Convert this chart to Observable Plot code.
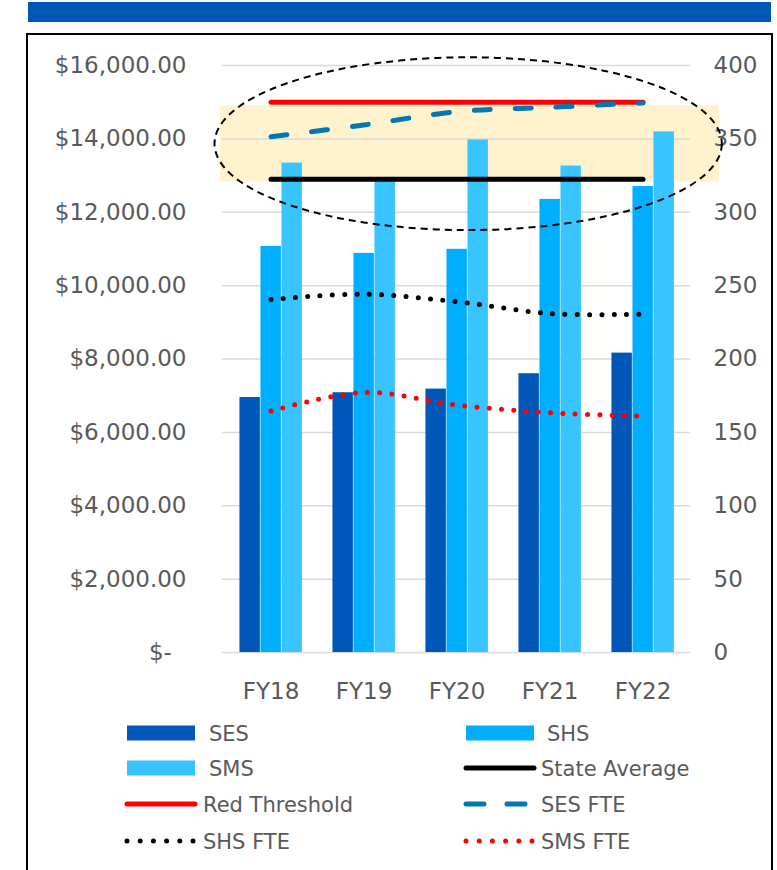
<!DOCTYPE html>
<html><head><meta charset="utf-8">
<script src="https://cdn.jsdelivr.net/npm/d3@7"></script>
<script src="https://cdn.jsdelivr.net/npm/@observablehq/plot@0.6"></script>
<style>
body{margin:0;background:#fff;font-family:"DejaVu Sans",sans-serif;}
#page{position:relative;width:777px;height:870px;overflow:hidden;background:#fff;}
#topbar{position:absolute;left:28px;top:2px;width:743px;height:20px;background:#0057B8;}
#box{position:absolute;left:26px;top:33px;width:743px;height:900px;border:2px solid #000;}
#chart{position:absolute;left:28px;top:35px;}
#legend{position:absolute;left:0;top:710px;}
</style></head><body>
<div id="page"><div id="topbar"></div><div id="box"></div><div id="chart"></div><div id="legend"></div></div>
<script>
// ---- data ----
const years = ["FY18", "FY19", "FY20", "FY21", "FY22"];
const ses = [6950, 7080, 7180, 7600, 8160];
const shs = [11070, 10880, 10990, 12350, 12700];
const sms = [13340, 12860, 13970, 13260, 14190];
const stateAverage = [12900, 12900, 12900, 12900, 12900];
const redThreshold = [15000, 15000, 15000, 15000, 15000];
const sesFte = [351.5, 359.5, 368.5, 371.5, 374.5];
const shsFte = [240.5, 244.2, 239, 231, 230.5];
const smsFte = [164.5, 177.2, 168.6, 163.4, 161.1];
const leftTicks = [0, 2000, 4000, 6000, 8000, 10000, 12000, 14000, 16000];
const rightTicks = [0, 50, 100, 150, 200, 250, 300, 350, 400];
const highlightBand = [{y1: 12820, y2: 14900}];
// ellipse annotation: center year + offset (in bands), vertical extent in $
const ellipseNote = {year: "FY20", xOffsetBands: 0.13, rxBands: 2.71, yTop: 16210, yBottom: 11500};

const ratio = 16000 / 400; // right axis (FTE) to left axis ($)

const rows = years.map((y, i) => ({
  year: y, ses: ses[i], shs: shs[i], sms: sms[i],
  stateAverage: stateAverage[i], redThreshold: redThreshold[i],
  sesFte: sesFte[i] * ratio, shsFte: shsFte[i] * ratio, smsFte: smsFte[i] * ratio
}));

const colors = {ses: "#0057B8", shs: "#00AEFF", sms: "#38C4FF", sesFte: "#0078B4"};

const W = 743, H = 680, ml = 194, mr = 81, mt = 30, mb = 63;
const bw = (W - ml - mr) / years.length;
const groupOff = 0.165 * bw, barW = 0.2245 * bw;
function bars(key, color, k) {
  return Plot.barY(rows, {
    x: "year", y: key, fill: color,
    insetLeft: groupOff + k * barW,
    insetRight: bw - groupOff - (k + 1) * barW
  });
}
const moneyFmt = d => d === 0 ? "$-\u00a0\u00a0" : "$" + d3.format(",.2f")(d);

const chart = Plot.plot({
  width: W, height: H,
  marginLeft: ml, marginRight: mr, marginTop: mt, marginBottom: mb,
  style: {fontFamily: "'DejaVu Sans', sans-serif", fontSize: "23px", color: "#595959", background: "transparent"},
  x: {type: "band", domain: years, padding: 0},
  y: {domain: [0, 16000]},
  marks: [
    Plot.rectY(highlightBand, {y1: "y1", y2: "y2", fill: "#FFF2CC", insetLeft: -2, insetRight: -29}),
    Plot.ruleY(leftTicks, {stroke: "#D9D9D9", strokeWidth: 1.5}),
    bars("ses", colors.ses, 0),
    bars("shs", colors.shs, 1),
    bars("sms", colors.sms, 2),
    Plot.axisY(leftTicks, {anchor: "left", tickSize: 0, tickPadding: 36, tickFormat: moneyFmt, label: null}),
    Plot.axisY(rightTicks.map(v => v * ratio), {anchor: "right", tickSize: 0, tickPadding: 23, tickFormat: d => String(d / ratio), label: null}),
    Plot.axisX({tickSize: 0, tickPadding: 30, label: null}),
    Plot.lineY(rows, {x: "year", y: "stateAverage", stroke: "#000", strokeWidth: 5, strokeLinecap: "round"}),
    Plot.lineY(rows, {x: "year", y: "redThreshold", stroke: "#FF0000", strokeWidth: 5, strokeLinecap: "round"}),
    Plot.lineY(rows, {x: "year", y: "sesFte", stroke: colors.sesFte, strokeWidth: 5, strokeLinecap: "round", strokeDasharray: "16,25", curve: "catmull-rom"}),
    Plot.lineY(rows, {x: "year", y: "shsFte", stroke: "#000", strokeWidth: 5, strokeLinecap: "round", strokeDasharray: "0,12.3", curve: "catmull-rom"}),
    Plot.lineY(rows, {x: "year", y: "smsFte", stroke: "#FF0000", strokeWidth: 5, strokeLinecap: "round", strokeDasharray: "0,12.3", curve: "catmull-rom"})
  ]
});
document.getElementById("chart").appendChild(chart);

// ellipse annotation using the plot's own scales
(function () {
  const xs = chart.scale("x"), ys = chart.scale("y");
  const xb = d3.scaleBand().domain(xs.domain).range(xs.range)
    .paddingInner(xs.paddingInner || 0).paddingOuter(xs.paddingOuter || 0).align(xs.align ?? 0.5);
  const yl = d3.scaleLinear().domain(ys.domain).range(ys.range);
  const band = xb.bandwidth();
  const cx = xb(ellipseNote.year) + band / 2 + ellipseNote.xOffsetBands * band;
  const yT = yl(ellipseNote.yTop), yB = yl(ellipseNote.yBottom);
  d3.select(chart).append("ellipse")
    .attr("cx", cx).attr("cy", (yT + yB) / 2)
    .attr("rx", ellipseNote.rxBands * band).attr("ry", Math.abs(yB - yT) / 2)
    .attr("fill", "none").attr("stroke", "#000").attr("stroke-width", 2)
    .attr("stroke-dasharray", "7,5");
})();

// ---- legend ----
const legendItems = [
  {label: "SES", type: "rect", color: colors.ses, sx: 127, sw: 68, tx: 209, row: 0},
  {label: "SHS", type: "rect", color: colors.shs, sx: 466, sw: 68, tx: 547, row: 0},
  {label: "SMS", type: "rect", color: colors.sms, sx: 127, sw: 68, tx: 209, row: 1},
  {label: "State Average", type: "line", color: "#000", sx: 466, sw: 68, tx: 541, row: 1},
  {label: "Red Threshold", type: "line", color: "#FF0000", sx: 127, sw: 68, tx: 203, row: 2},
  {label: "SES FTE", type: "dash", color: colors.sesFte, sx: 466, sw: 62, tx: 541, row: 2},
  {label: "SHS FTE", type: "dot", color: "#000", sx: 127, sw: 66, tx: 203, row: 3},
  {label: "SMS FTE", type: "dot", color: "#FF0000", sx: 466, sw: 66, tx: 541, row: 3}
];
const rowY = [23, 58, 94, 131];
const lg = d3.select("#legend").append("svg").attr("width", 777).attr("height", 160)
  .style("font-family", "'DejaVu Sans', sans-serif").style("font-size", "21px");
for (const it of legendItems) {
  const y = rowY[it.row];
  if (it.type === "rect") {
    lg.append("rect").attr("x", it.sx).attr("y", y - 7.5).attr("width", it.sw).attr("height", 15).attr("fill", it.color);
  } else {
    const ln = lg.append("line").attr("x1", it.sx).attr("x2", it.sx + it.sw).attr("y1", y).attr("y2", y)
      .attr("stroke", it.color).attr("stroke-width", 5).attr("stroke-linecap", "round");
    if (it.type === "dash") ln.attr("stroke-dasharray", "18,23");
    if (it.type === "dot") ln.attr("stroke-dasharray", "0,13.2");
  }
  lg.append("text").attr("x", it.tx).attr("y", y + 7.5).attr("fill", "#595959").text(it.label);
}
</script>
</body></html>
